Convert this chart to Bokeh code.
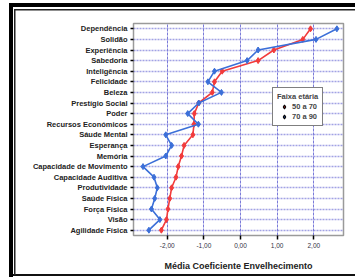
from bokeh.plotting import figure
from bokeh.models import (FactorRange, Range1d, FixedTicker, Legend, LegendItem,
                          ColumnDataSource)
from bokeh.embed import file_html
from bokeh.resources import INLINE

categories = ["Dependência", "Solidão", "Experiência", "Sabedoria", "Inteligência",
              "Felicidade", "Beleza", "Prestígio Social", "Poder", "Recursos Económicos",
              "Sáude Mental", "Esperança", "Memória", "Capacidade de Movimento",
              "Capacidade Auditiva", "Produtividade", "Saúde Física", "Força Física",
              "Visão", "Agilidade Física"]
grupo_50_70 = [1.91, 1.70, 0.91, 0.48, -0.50, -0.71, -0.77, -1.14, -1.26, -1.27,
               -1.30, -1.54, -1.61, -1.70, -1.76, -1.88, -1.93, -1.98, -2.02, -2.16]
grupo_70_90 = [2.63, 2.06, 0.48, 0.18, -0.71, -0.89, -0.52, -1.14, -1.44, -1.15,
               -2.04, -1.88, -2.04, -2.66, -2.36, -2.27, -2.34, -2.43, -2.20, -2.50]
series_names = ["50 a 70", "70 a 90"]
x_ticks = [-2, -1, 0, 1, 2]
x_tick_labels = ["-2,00", "-1,00", "0,00", "1,00", "2,00"]

RED = "#f23b3b"
BLUE = "#3b6fd8"
FONT = "Liberation Sans"

W, H = 355, 277
# outer double frame drawn as CSS background behind a transparent border area
frame_parts = [  # (left, top, width, height, colour)
    (9, 3, W - 9, 4, "#000"), (14, 9, W - 14, 1.5, "#222"),
    (9, 3, 4, 274, "#000"), (14, 9, 1.5, 266, "#222"),
    (9, 274, W - 9, 2, "#111"),
]
clip = (f"polygon(0px 0px, {W}px 0px, {W}px 11px, 347px 11px, 347px 273px, "
        f"{W}px 273px, {W}px {H}px, 0px {H}px)")
frame_styles = {
    "position": "absolute",
    "left": "0px",
    "top": "0px",
    "overflow": "hidden",
    "clip-path": clip,
    "background-color": "white",
    "background-image": ", ".join(f"linear-gradient({c}, {c})" for *_, c in frame_parts),
    "background-position": ", ".join(f"{l}px {t}px" for l, t, *_ in frame_parts),
    "background-size": ", ".join(f"{w}px {h}px" for _, _, w, h, _ in frame_parts),
    "background-repeat": "no-repeat",
}

p = figure(width=W, height=H, output_backend="svg", toolbar_location=None,
           y_range=FactorRange(*categories[::-1]), x_range=Range1d(-2.92, 2.81),
           min_border_left=133, min_border_right=W - 343, min_border_top=23,
           min_border_bottom=H - 235, margin=0, styles=frame_styles)

p.background_fill_color = "white"
p.border_fill_alpha = 0
p.outline_line_color = "#9a9a9a"
p.outline_line_width = 1.5

# grids
p.xgrid.ticker = FixedTicker(ticks=x_ticks)
p.xgrid.grid_line_color = "#5a5ad0"
p.xgrid.grid_line_alpha = 0.8
p.xgrid.grid_line_dash = "3 1"
p.ygrid.grid_line_color = "#7a7ad8"
p.ygrid.grid_line_alpha = 0.7
p.ygrid.grid_line_dash = "2 1"
p.ygrid.grid_line_width = 1.3

# x axis
p.xaxis.ticker = FixedTicker(ticks=x_ticks)
p.xaxis.major_label_overrides = {t: l for t, l in zip(x_ticks, x_tick_labels)}
p.xaxis.axis_line_color = None
p.xaxis.major_tick_line_color = "black"
p.xaxis.major_tick_line_width = 1.5
p.xaxis.major_tick_out = 4
p.xaxis.major_tick_in = 0
p.xaxis.minor_tick_line_color = None
p.xaxis.major_label_text_font = FONT
p.xaxis.major_label_text_font_size = "6.5px"
p.xaxis.major_label_text_color = "#333344"
p.xaxis.major_label_standoff = 3
p.xaxis.axis_label = "Média Coeficiente Envelhecimento"
p.xaxis.axis_label_text_font = FONT
p.xaxis.axis_label_text_font_size = "9px"
p.xaxis.axis_label_text_font_style = "bold"
p.xaxis.axis_label_text_color = "#222222"
p.xaxis.axis_label_standoff = 10

# y axis
p.yaxis.axis_line_color = None
p.yaxis.major_tick_line_color = "black"
p.yaxis.major_tick_line_width = 1.5
p.yaxis.major_tick_out = 3
p.yaxis.major_tick_in = 0
p.yaxis.major_label_text_font = FONT
p.yaxis.major_label_text_font_size = "7.5px"
p.yaxis.major_label_text_font_style = "bold"
p.yaxis.major_label_text_color = "#222222"
p.yaxis.major_label_standoff = 3

src = ColumnDataSource(dict(cat=categories, a=grupo_50_70, b=grupo_70_90))
p.line("a", "cat", source=src, color=RED, line_width=1.6)
p.scatter("a", "cat", source=src, marker="diamond", size=6, color=RED)
p.line("b", "cat", source=src, color=BLUE, line_width=1.6)
p.scatter("b", "cat", source=src, marker="diamond", size=6, color=BLUE)

# legend glyphs (black diamond with coloured centre), placed off-range
off = ColumnDataSource(dict(x=[99], y=[categories[0]]))
lr = p.scatter("x", "y", source=off, marker="diamond", size=9, fill_color=RED,
               line_color="black", line_width=1.2)
lb = p.scatter("x", "y", source=off, marker="diamond", size=9, fill_color=BLUE,
               line_color="black", line_width=1.2)
legend = Legend(items=[LegendItem(label=series_names[0], renderers=[lr]),
                       LegendItem(label=series_names[1], renderers=[lb])],
                location=(139, 109), title="Faixa etária")
legend.title_text_font = FONT
legend.title_text_font_size = "7.5px"
legend.title_text_font_style = "bold"
legend.title_standoff = 1
legend.label_text_font = FONT
legend.label_text_font_size = "7.5px"
legend.label_text_font_style = "bold"
legend.label_height = 9
legend.label_standoff = 1
legend.glyph_width = 14
legend.glyph_height = 9
legend.spacing = 1
legend.padding = 4
legend.margin = 0
legend.border_line_color = "black"
legend.border_line_width = 1.5
legend.background_fill_color = "white"
legend.background_fill_alpha = 1
p.add_layout(legend)

open("out.html", "w").write(file_html(p, INLINE))
